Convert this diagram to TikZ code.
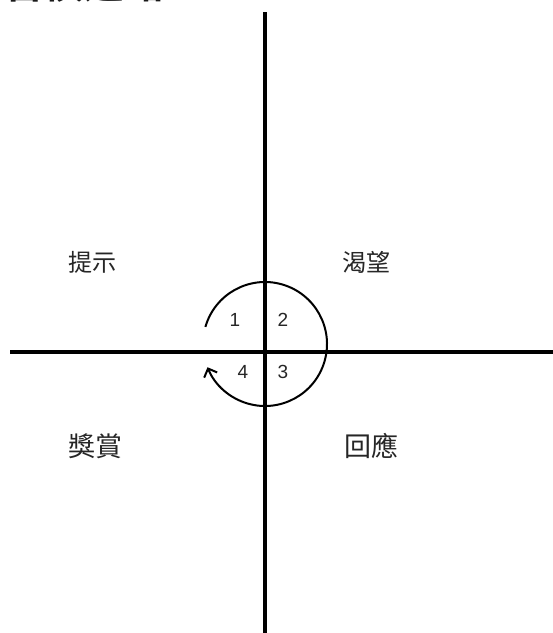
\documentclass[tikz,border=0pt]{standalone}
\usepackage{fontspec}
\setmainfont{Liberation Sans}
\newfontfamily\cjk{Noto Sans CJK TC}
\newfontfamily\cjkbold{Noto Sans CJK TC Bold}
\usetikzlibrary{arrows.meta}
\begin{document}
\begin{tikzpicture}[x=1pt,y=-1pt,
  axis/.style={line width=4.5pt,black},
  loopline/.style={line width=2pt,black},
  quad/.style={text=black!85,inner sep=0pt},
  num/.style={font=\fontsize{19}{19}\selectfont,text=black!85,inner sep=0pt}]
\useasboundingbox (0,0) rectangle (553,633);
\clip (0,0) rectangle (553,633);
\fill[white] (0,0) rectangle (553,633);
% clipped title
\node[anchor=base west,inner sep=0pt,font=\cjkbold\fontsize{40}{40}\selectfont,text=black!90] (title) at (4,-1.5) {習慣迴路};
% axes
\coordinate (top) at (265,12);
\coordinate (bottom) at (265,640);
\coordinate (left) at (10,352);
\coordinate (right) at (560,352);
\draw[axis] (top) -- (bottom);
\draw[axis] (left) -- (right);
% loop
\coordinate (c) at (265,344);
\draw[loopline,-{Straight Barb[length=7pt,width=14pt]}] ([shift={(-164:62)}]c) arc[start angle=-164,end angle=158,radius=62];
% numbers
\node[num] (n1) at (235,320) {1};
\node[num] (n2) at (283,320) {2};
\node[num] (n4) at (243,372) {4};
\node[num] (n3) at (283,372) {3};
% quadrant labels
\node[quad,font=\cjk\fontsize{24}{24}\selectfont] (cue) at (92,262) {提示};
\node[quad,font=\cjk\fontsize{24}{24}\selectfont] (craving) at (366,262) {渴望};
\node[quad,font=\cjk\fontsize{27}{27}\selectfont] (reward) at (95,446) {獎賞};
\node[quad,font=\cjk\fontsize{27}{27}\selectfont] (response) at (371,446) {回應};
\end{tikzpicture}
\end{document}
